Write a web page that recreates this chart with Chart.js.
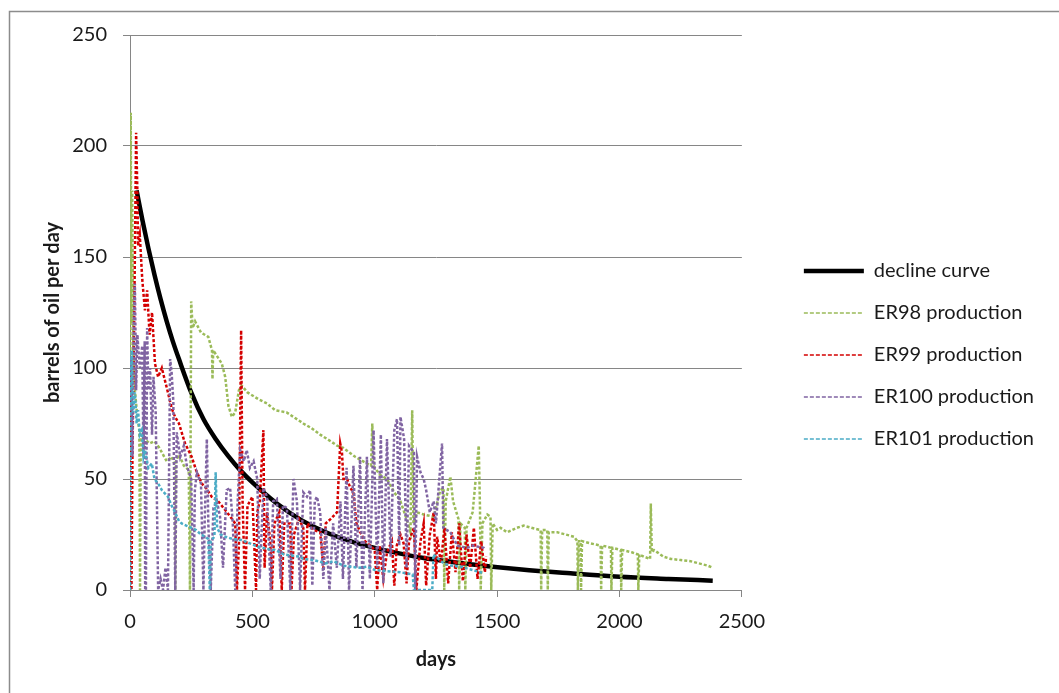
<!DOCTYPE html>
<html>
<head>
<meta charset="utf-8">
<script src="https://cdn.jsdelivr.net/npm/chart.js@4.4.1/dist/chart.umd.min.js"></script>
<style>
html,body{margin:0;padding:0;background:#fff;}
#c{display:block;}
</style>
</head>
<body>
<canvas id="c" width="1059" height="693"></canvas>
<script>
// ---- data ----
const xTicks = [0, 500, 1000, 1500, 2000, 2500];
const yTicks = [0, 50, 100, 150, 200, 250];

const declineDays    = [27,50,75,100,125,150,175,200,250,300,350,400,450,500,600,700,800,900,1000,1100,1200,1400,1600,1800,2000,2200,2381];
const declineBarrels = [180,167,154,142,131,121,112,104,89,77,68,60.5,54,48.5,39,31.5,26,22,19,16.5,14.4,11.5,9.2,7.5,6,5,4.2];

const er98Days    = [0,3,6,9,13,20,30,38,41,44,60,80,100,120,150,170,184,185,188,200,220,240,245,250,256,266,290,320,335,337,340,375,389,402,416,430,445,457,480,524,560,593,640,695,708,740,777,820,846,872,920,968,985,990,995,1020,1050,1080,1105,1130,1146,1153,1158,1173,1200,1241,1268,1281,1284,1290,1309,1320,1342,1345,1350,1368,1370,1375,1400,1425,1430,1433,1440,1460,1473,1476,1482,1500,1514,1541,1580,1609,1640,1678,1680,1684,1705,1707,1711,1746,1780,1814,1828,1830,1834,1841,1843,1847,1882,1923,1925,1929,1950,1965,1967,1971,2005,2007,2011,2050,2075,2077,2081,2100,2125,2128,2132,2141,2180,2210,2250,2290,2324,2360,2381];
const er98Barrels = [0,215,120,180,110,90,78,72,0,70,68,66,67,64,58,60,56,0,58,61,56,54,0,130,118,121,116,114,108,95,108,102,96,83,78,80,90,92,89,86,84,81,80,76,75,73,70,67,65,64,60,57,56,75,56,52,50,44,40,32,26,81,30,35,34,33,45,46,0,40,51,40,32,0,30,28,0,28,35,65,37,0,30,34,33,0,30,27,28,26,28,29,28,27,0,27,27,0,26,26,25,24,22,0,22,22,0,22,21,20,0,20,19.5,19,0,19,18,0,18,17,16,0,16,15,14,39,17,18,15,14,13.5,13,12,11,10];

const er99Days    = [0,3,6,10,18,25,30,33,40,50,61,70,80,90,102,115,130,155,170,184,200,225,252,270,293,310,334,360,389,410,430,437,445,454,460,470,480,500,515,520,530,545,550,560,573,580,590,610,620,630,655,660,670,690,708,715,725,750,777,790,800,820,846,859,866,872,887,900,913,925,941,960,982,1000,1010,1020,1035,1050,1070,1080,1090,1105,1118,1130,1140,1160,1170,1187,1200,1210,1225,1241,1250,1255,1270,1285,1300,1315,1330,1345,1360,1375,1390,1405,1420,1435,1450,1455];
const er99Barrels = [0,100,0,60,130,206,180,155,160,140,126,135,115,125,102,96,100,89,82,78,75,66,60,54,48,46,42,40,36,33,30,0,20,117,40,0,38,42,0,35,40,72,10,35,22,0,30,35,0,30,30,0,25,32,28,0,30,27,26,10,30,32,35,66,62,50,50,46,44,30,26,22,20,18,0,20,5,17,22,2,20,25,21,3,22,28,0,22,30,2,25,35,5,24,12,28,3,26,8,30,4,25,10,28,5,22,8,15];

const er100Days    = [0,5,10,15,20,25,30,40,50,55,60,62,65,70,75,82,90,96,105,115,125,135,145,155,164,170,177,185,191,205,220,232,250,260,265,273,290,300,305,314,320,330,341,355,368,380,395,409,420,430,440,450,465,477,490,505,520,530,545,560,575,585,600,615,625,641,655,668,682,695,708,723,736,745,755,764,777,790,800,815,830,845,860,870,885,895,913,925,940,950,968,980,995,1010,1025,1035,1050,1065,1080,1091,1100,1105,1120,1130,1140,1160,1165,1173,1187,1200,1210,1225,1241,1250,1275,1280,1309,1337,1377,1400,1445,1450];
const er100Barrels = [0,105,60,120,138,90,115,100,110,60,112,0,0,118,90,100,70,96,80,0,5,0,10,0,104,98,85,0,71,60,65,56,50,0,45,53,48,0,30,68,30,0,37,40,33,10,45,46,30,0,40,63,58,63,55,58,50,5,46,42,0,40,41,5,38,37,0,50,40,0,44,42,45,2,40,42,35,5,28,0,30,10,40,5,55,0,56,10,60,0,60,5,72,10,70,3,68,15,72,77,20,78,68,10,65,62,0,60,53,50,45,35,40,30,66,28,26,20,19,20,19,18];

const er101Days    = [0,2,7,12,20,27,33,40,48,55,61,75,89,100,115,130,155,170,184,200,211,230,252,270,290,307,320,326,330,345,350,356,370,389,420,457,490,524,560,593,630,660,695,708,750,800,832,870,900,940,968,1000,1050,1105,1130,1155,1160,1235,1240,1260,1282,1310,1350,1400,1445];
const er101Barrels = [0,90,108,80,89,75,81,70,72,60,63,55,57,50,48,45,42,38,35,31,30,29,28,27,25,24,23,0,22,24,53,28,25,24,23,22.5,21,19.5,18.5,18,16,15.5,15,14,13.5,12,13,11,10.5,10,10.5,9,8.5,8,7.5,7,0,0,16,14,12,11,10.5,9,7.6];

// ---- chart ----
function pts(days, vals){ return days.map((d,i)=>({x:d, y:vals[i]})); }

Chart.defaults.font.family = 'Lato, "Open Sans", sans-serif';
Chart.defaults.color = '#1a1a1a';

const frame = {
  id: 'frame',
  beforeDraw(c){
    const ctx = c.ctx;
    ctx.save();
    ctx.fillStyle = '#ffffff';
    ctx.fillRect(0, 0, c.width, c.height);
    ctx.strokeStyle = '#8c8c8c';
    ctx.lineWidth = 1.5;
    ctx.beginPath();
    ctx.moveTo(9.5, c.height);
    ctx.lineTo(9.5, 11.5);
    ctx.lineTo(c.width, 11.5);
    ctx.stroke();
    ctx.restore();
  }
};

const dash = [3, 2];
const baseLabels = Chart.defaults.plugins.legend.labels.generateLabels;
new Chart(document.getElementById('c'), {
  type: 'line',
  data: {
    datasets: [
      { label: 'decline curve', data: pts(declineDays, declineBarrels), borderColor: '#000000', backgroundColor: '#000000', borderWidth: 4.5, cubicInterpolationMode: 'monotone', pointRadius: 0, pointStyle: 'line', order: 5 },
      { label: 'ER98 production', data: pts(er98Days, er98Barrels), borderColor: '#9bbb59', backgroundColor: '#9bbb59', borderWidth: 2.5, borderDash: dash, pointRadius: 0, pointStyle: 'line', order: 4 },
      { label: 'ER99 production', data: pts(er99Days, er99Barrels), borderColor: '#d40000', backgroundColor: '#d40000', borderWidth: 2.5, borderDash: dash, pointRadius: 0, pointStyle: 'line', order: 3 },
      { label: 'ER100 production', data: pts(er100Days, er100Barrels), borderColor: '#8064a2', backgroundColor: '#8064a2', borderWidth: 2.5, borderDash: dash, pointRadius: 0, pointStyle: 'line', order: 2 },
      { label: 'ER101 production', data: pts(er101Days, er101Barrels), borderColor: '#4bacc6', backgroundColor: '#4bacc6', borderWidth: 2.5, borderDash: dash, pointRadius: 0, pointStyle: 'line', order: 1 }
    ]
  },
  options: {
    responsive: false,
    animation: false,
    devicePixelRatio: 1,
    layout: { padding: { top: 35, bottom: 18, left: 0, right: 15 } },
    plugins: {
      tooltip: { enabled: false },
      legend: {
        position: 'right',
        maxWidth: 320,
        labels: {
          usePointStyle: true,
          pointStyleWidth: 60,
          padding: 22,
          font: { size: 20 },
          color: '#1a1a1a',
          sort: (a, b) => a.datasetIndex - b.datasetIndex,
          generateLabels: chart => baseLabels(chart).map(l => {
            const ds = chart.data.datasets[l.datasetIndex];
            if (ds.borderDash) {
              l.lineDash = [4, 2];
              l.lineWidth = 1.5;
            } else {
              l.lineDash = [];
              l.lineWidth = ds.borderWidth;
            }
            return l;
          })
        }
      }
    },
    scales: {
      x: {
        type: 'linear',
        min: xTicks[0],
        max: xTicks[xTicks.length - 1],
        afterBuildTicks: s => { s.ticks = xTicks.map(v => ({ value: v })); },
        afterFit: s => { s.height = 85; },
        grid: { drawOnChartArea: false, drawTicks: true, tickLength: 7, color: '#868686' },
        border: { display: true, color: '#868686', width: 1 },
        ticks: { font: { size: 20 }, padding: 13, color: '#1a1a1a', maxRotation: 0, callback: v => String(v) },
        title: { display: true, text: 'days', font: { size: 20, weight: 'bold' }, padding: { top: 0, bottom: 3 }, color: '#1a1a1a' }
      },
      y: {
        min: yTicks[0],
        max: yTicks[yTicks.length - 1],
        afterBuildTicks: s => { s.ticks = yTicks.map(v => ({ value: v })); },
        afterFit: s => { s.width = 130; },
        grid: { color: '#868686', lineWidth: 1, tickLength: 7 },
        border: { display: true, color: '#868686', width: 1 },
        ticks: { font: { size: 20 }, padding: 16, color: '#1a1a1a', callback: v => String(v) },
        title: { display: true, text: 'barrels of oil per day', font: { size: 20, weight: 'bold' }, padding: { top: 41, bottom: 0 }, color: '#1a1a1a' }
      },
      gap: {
        type: 'linear',
        position: 'right',
        display: true,
        grid: { display: false },
        border: { display: false },
        ticks: { display: false },
        afterFit: s => { s.width = 40; }
      }
    }
  },
  plugins: [frame]
});
</script>
</body>
</html>
